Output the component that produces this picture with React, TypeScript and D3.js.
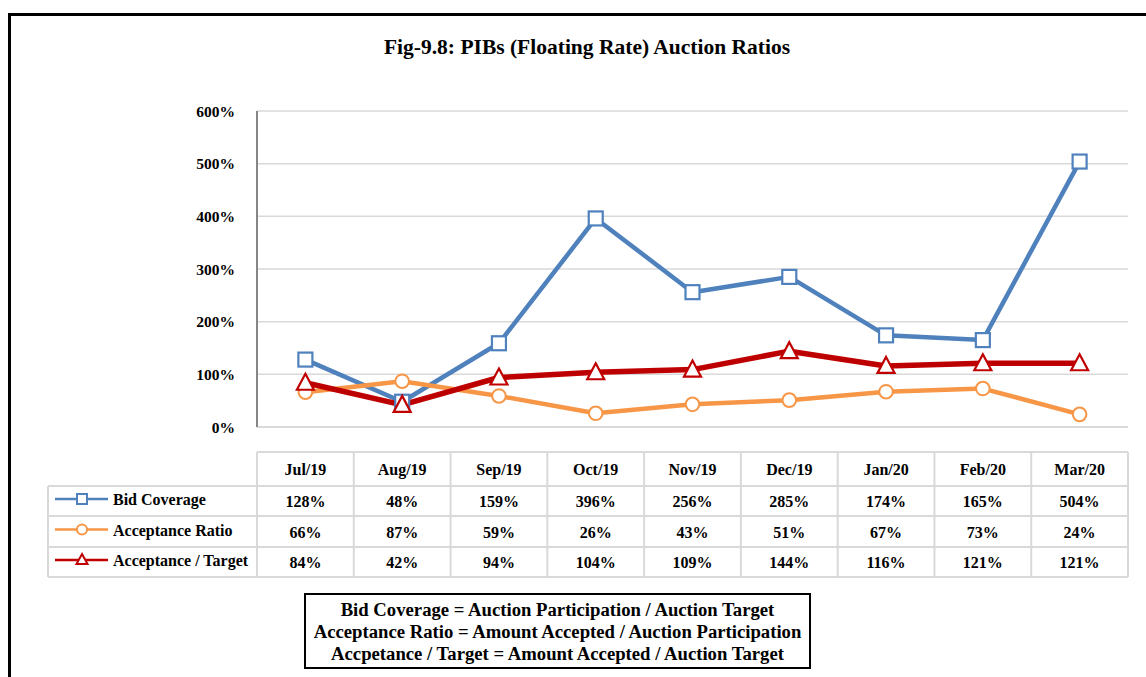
import React from "react";
import * as d3 from "d3";

const categories = ["Jul/19", "Aug/19", "Sep/19", "Oct/19", "Nov/19", "Dec/19", "Jan/20", "Feb/20", "Mar/20"];
const bidCoverage = [128, 48, 159, 396, 256, 285, 174, 165, 504];
const acceptanceRatio = [66, 87, 59, 26, 43, 51, 67, 73, 24];
const acceptanceTarget = [84, 42, 94, 104, 109, 144, 116, 121, 121];
const yTicks = [0, 100, 200, 300, 400, 500, 600];
const title = "Fig-9.8: PIBs (Floating Rate) Auction Ratios";
const notes = [
  "Bid Coverage = Auction Participation / Auction Target",
  "Acceptance Ratio = Amount Accepted / Auction Participation",
  "Accpetance / Target = Amount Accepted / Auction Target",
];

const series = [
  { name: "Bid Coverage", values: bidCoverage, color: "#4F81BD", width: 4.5, marker: "square" },
  { name: "Acceptance Ratio", values: acceptanceRatio, color: "#F79646", width: 4.5, marker: "circle" },
  { name: "Acceptance / Target", values: acceptanceTarget, color: "#C00000", width: 5.5, marker: "triangle" },
];

const FONT = "'Times New Roman', 'Liberation Serif', serif";

function Marker({ type, x, y, color }: { type: string; x: number; y: number; color: string }) {
  if (type === "square") {
    return <rect x={x - 7} y={y - 7} width={14} height={14} fill="#fff" stroke={color} strokeWidth={2.2} />;
  }
  if (type === "circle") {
    return <circle cx={x} cy={y} r={6.8} fill="#fff" stroke={color} strokeWidth={2} />;
  }
  const s = 8;
  return (
    <path
      d={`M${x},${y - s - 1} L${x + s + 0.5},${y + s - 1} L${x - s - 0.5},${y + s - 1} Z`}
      fill="#fff"
      stroke={color}
      strokeWidth={2.2}
      strokeLinejoin="miter"
    />
  );
}

export default function App() {
  const W = 1146, H = 677;
  const plotLeft = 257, plotRight = 1128, plotTop = 111, plotBottom = 427;
  const x = d3.scaleBand<string>().domain(categories).range([plotLeft, plotRight]);
  const y = d3.scaleLinear().domain([0, 600]).range([plotBottom, plotTop]);
  const cx = (c: string) => (x(c) as number) + x.bandwidth() / 2;

  const tableTop = 452, headerBottom = 486;
  const rowBounds = [486, 516, 547, 577];
  const legendLeft = 48;

  const gridColor = "#D9D9D9";
  const txt = { fontFamily: FONT, fontWeight: "bold" as const };

  return (
    <svg width={W} height={H} style={{ position: "absolute", left: 0, top: 0, display: "block", fontFamily: FONT }}>
      <rect x={0} y={0} width={W} height={H} fill="#fff" />
      {/* outer frame */}
      <path d={`M9.5,${H + 5} L9.5,14.5 L${W + 5},14.5`} fill="none" stroke="#000" strokeWidth={3} />

      <text x={587} y={54} textAnchor="middle" fontSize={21.5} style={txt}>{title}</text>

      {/* gridlines */}
      {yTicks.map((t) => (
        <line key={t} x1={plotLeft} x2={plotRight} y1={y(t)} y2={y(t)} stroke={gridColor} strokeWidth={t === 0 ? 2 : 1.5} />
      ))}
      <line x1={plotLeft} x2={plotLeft} y1={plotTop} y2={plotBottom} stroke="#868686" strokeWidth={2} />
      {yTicks.map((t) => (
        <text key={"l" + t} x={235} y={y(t) + 5.5} textAnchor="end" fontSize={15.5} style={txt}>{t}%</text>
      ))}

      {/* lines */}
      {series.map((s) => {
        const line = d3.line<number>().x((_, i) => cx(categories[i])).y((v) => y(v));
        return (
          <g key={s.name}>
            <path d={line(s.values) || ""} fill="none" stroke={s.color} strokeWidth={s.width} strokeLinejoin="round" />
            {s.marker === "triangle" && (
              <path d={line(s.values) || ""} fill="none" stroke="#A00000" strokeWidth={1.5} strokeDasharray="1.5 2.5" opacity={0.6} />
            )}
          </g>
        );
      })}
      {series.map((s) => (
        <g key={"m" + s.name}>
          {s.values.map((v, i) => (
            <Marker key={i} type={s.marker} x={cx(categories[i])} y={y(v)} color={s.color} />
          ))}
        </g>
      ))}

      {/* data table */}
      <g stroke={gridColor} strokeWidth={2} fill="none">
        <line x1={plotLeft} x2={plotRight} y1={tableTop} y2={tableTop} />
        {rowBounds.map((r, i) => (
          <line key={i} x1={legendLeft} x2={plotRight} y1={r} y2={r} />
        ))}
        <line x1={legendLeft} x2={legendLeft} y1={headerBottom} y2={rowBounds[3]} />
        {categories.map((c) => (
          <line key={c} x1={x(c) as number} x2={x(c) as number} y1={tableTop} y2={rowBounds[3]} />
        ))}
        <line x1={plotRight} x2={plotRight} y1={tableTop} y2={rowBounds[3]} />
      </g>
      {categories.map((c) => (
        <text key={"h" + c} x={cx(c)} y={(tableTop + headerBottom) / 2 + 6} textAnchor="middle" fontSize={16} style={txt}>{c}</text>
      ))}
      {series.map((s, r) => {
        const mid = (rowBounds[r] + rowBounds[r + 1]) / 2;
        return (
          <g key={"row" + s.name}>
            <line x1={55} x2={108} y1={mid - 2} y2={mid - 2} stroke={s.color} strokeWidth={2.5} />
            {s.marker === "square" && <rect x={77} y={mid - 7} width={10} height={10} fill="#fff" stroke={s.color} strokeWidth={2} />}
            {s.marker === "circle" && <circle cx={82} cy={mid - 2} r={5} fill="#fff" stroke={s.color} strokeWidth={2} />}
            {s.marker === "triangle" && <path d={`M82,${mid - 8} L87.5,${mid + 2} L76.5,${mid + 2} Z`} fill="#fff" stroke={s.color} strokeWidth={2} />}
            <text x={113} y={mid + 4} fontSize={16} style={txt}>{s.name}</text>
            {s.values.map((v, i) => (
              <text key={i} x={cx(categories[i])} y={mid + 6} textAnchor="middle" fontSize={16} style={txt}>{v}%</text>
            ))}
          </g>
        );
      })}

      {/* notes box */}
      <rect x={305} y={594} width={505} height={74} fill="#fff" stroke="#000" strokeWidth={2} />
      {notes.map((n, i) => (
        <text key={i} x={557.5} y={616 + i * 22} textAnchor="middle" fontSize={18.7} style={txt}>{n}</text>
      ))}
    </svg>
  );
}
